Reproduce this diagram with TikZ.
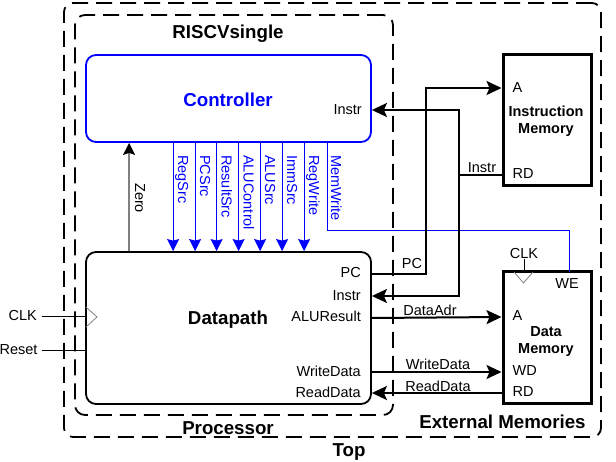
\documentclass[tikz,border=0pt]{standalone}
\usepackage{fontspec}
\setmainfont{Liberation Sans}
\usetikzlibrary{arrows.meta,calc}
\begin{document}
\begin{tikzpicture}[x=1pt,y=-1pt,
  lbl/.style={font=\fontsize{14.5}{17.3}\selectfont, inner sep=0pt},
  blbl/.style={font=\fontsize{14.5}{17.3}\selectfont\bfseries, inner sep=0pt, align=center},
  big/.style={font=\fontsize{18.7}{21}\selectfont\bfseries, inner sep=0pt},
  dashbox/.style={draw, line width=1.8pt, dash pattern=on 16pt off 8pt, inner sep=0pt},
  blockbox/.style={draw, line width=1.8pt, rounded corners=10pt, inner sep=0pt},
  membox/.style={draw, line width=3pt, inner sep=0pt, minimum width=88pt, minimum height=131pt},
  bus/.style={line width=2pt},
  bustip/.style={-{Stealth[length=15pt,width=14pt,inset=3pt]}},
  ctl/.style={blue, line width=1pt, -{Stealth[length=12pt,width=12pt,inset=1.5pt]}},
  thin/.style={line width=1pt}
]
\useasboundingbox (0,0) rectangle (616,462);

% dashed hierarchy boxes
\node[dashbox, rounded corners=9pt, minimum width=537pt, minimum height=434pt] (topbox) at (332.5,220) {};
\node[dashbox, rounded corners=10pt, minimum width=318pt, minimum height=400pt] (procbox) at (234,215) {};

% blocks
\node[blockbox, draw=blue, minimum width=285pt, minimum height=87pt] (ctrl) at (228.5,98.5) {};
\node[blockbox, minimum width=285pt, minimum height=152pt] (dp) at (228.5,328) {};
\node[membox] (im) at (547,120.5) {};
\node[membox] (dm) at (547,337.5) {};

% titles
\node[big] (tRISC) at (228,34) {RISCVsingle};
\node[big] (tProc) at (228,428) {Processor};
\node[big] (tTop) at (349,452) {Top};
\node[big] (tExt) at (502.5,422) {External Memories};
\node[big, blue] (tCtrl) at (228,100) {Controller};
\node[big] (tDp) at (228,320) {Datapath};
\node[blbl] (tIM) at (546,121.5) {Instruction\\Memory};
\node[blbl] (tDM) at (546,341.5) {Data\\Memory};

% port labels
\node[lbl, anchor=mid east] (cInstr) at (362,112) {Instr};
\node[lbl, anchor=mid east] (pPC) at (361,275) {PC};
\node[lbl, anchor=mid east] (pInstr) at (361,298) {Instr};
\node[lbl, anchor=mid east] (pALU) at (361,319) {ALUResult};
\node[lbl, anchor=mid east] (pWD) at (361,374) {WriteData};
\node[lbl, anchor=mid east] (pRD) at (361,395) {ReadData};
\node[lbl, anchor=mid west] (imAl) at (512.5,90) {A};
\node[lbl, anchor=mid west] (imRDl) at (512.5,176) {RD};
\node[lbl, anchor=mid west] (dmAl) at (512.5,318) {A};
\node[lbl, anchor=mid west] (dmWDl) at (512.5,373) {WD};
\node[lbl, anchor=mid west] (dmRDl) at (512.5,394) {RD};
\node[lbl] (dmWE) at (567,284) {WE};
\node[lbl] (dmCLK) at (524,254) {CLK};
\node[lbl, anchor=mid east] (clkl) at (37,318) {CLK};
\node[lbl, anchor=mid east] (rstl) at (37.7,352) {Reset};

% coordinates
\coordinate (ctI) at (ctrl.east |- 0,110);
\coordinate (dpPC) at (dp.east |- 0,274);
\coordinate (dpI) at (dp.east |- 0,296);
\coordinate (dpA) at (dp.east |- 0,318);
\coordinate (dpW) at (dp.east |- 0,372);
\coordinate (dpR) at (dp.east |- 0,393);
\coordinate (imA) at (im.west |- 0,88);
\coordinate (imR) at (im.west |- 0,175);
\coordinate (dmA) at (dm.west |- 0,317);
\coordinate (dmW) at (dm.west |- 0,372);
\coordinate (dmR) at (dm.west |- 0,393);
\coordinate (pcx) at (426,274);
\coordinate (ix) at (459,175);
\coordinate (mwS) at (327,142);
\coordinate (mwT) at (327,230);
\coordinate (weP) at (569,272);
\coordinate (clkS) at (42,317);
\coordinate (clkE) at (86,317);
\coordinate (rstS) at (42,351);
\coordinate (rstE) at (86,351);

% control signals
\foreach \x/\t [count=\i] in {174/RegSrc,196/PCSrc,217.5/ResultSrc,239.5/ALUControl,261/ALUSrc,283/ImmSrc,305/RegWrite} {
  \draw[ctl] ($(ctrl.south west)+(\x-86,0)$) -- ($(dp.north west)+(\x-86,0)$);
  \node[lbl, blue, rotate=-90, anchor=base west] (sig\i) at (\x+4,155) {\t};
}
\node[lbl, blue, rotate=-90, anchor=base west] (sig8) at (331,155) {MemWrite};
\draw[blue, line width=0.9pt] (mwS) -- (mwT) -| (weP);

% Zero
\draw[gray, line width=1.5pt, -{Stealth[length=12pt,width=12pt,inset=2pt,black]}] ($(dp.north west)+(44,0)$) -- ($(ctrl.south west)+(44,0)$);
\node[lbl, rotate=-90, anchor=base west] (zero) at (135,183) {Zero};

% buses
\draw[bus, bustip] (dpPC) -- (pcx) |- (imA);
\draw[bus, bustip] (imR) -- (ix) |- (ctI);
\draw[bus, bustip] (ix) |- (dpI);
\draw[bus, bustip] (dpA) -- (dmA);
\draw[bus, bustip] (dpW) -- (dmW);
\draw[bus, bustip] (dmR) -- (dpR);
\node[lbl] (wPC) at (412,264) {PC};
\node[lbl] (wI) at (482,168) {Instr};
\node[lbl] (wDA) at (430,310) {DataAdr};
\node[lbl] (wWD) at (438,364) {WriteData};
\node[lbl] (wRD) at (438,386) {ReadData};

% clock and reset
\draw[thin] (clkS) -- (clkE);
\draw[thin] (rstS) -- (rstE);
\draw[gray, line width=0.8pt] (86,307) -- (97,317) -- (86,327);
\draw[gray, line width=0.8pt] (514,272) -- (523.5,283) -- (533,272);
\draw[thin] (dmCLK.south) -- (dmCLK.south |- dm.north);
\end{tikzpicture}
\end{document}
